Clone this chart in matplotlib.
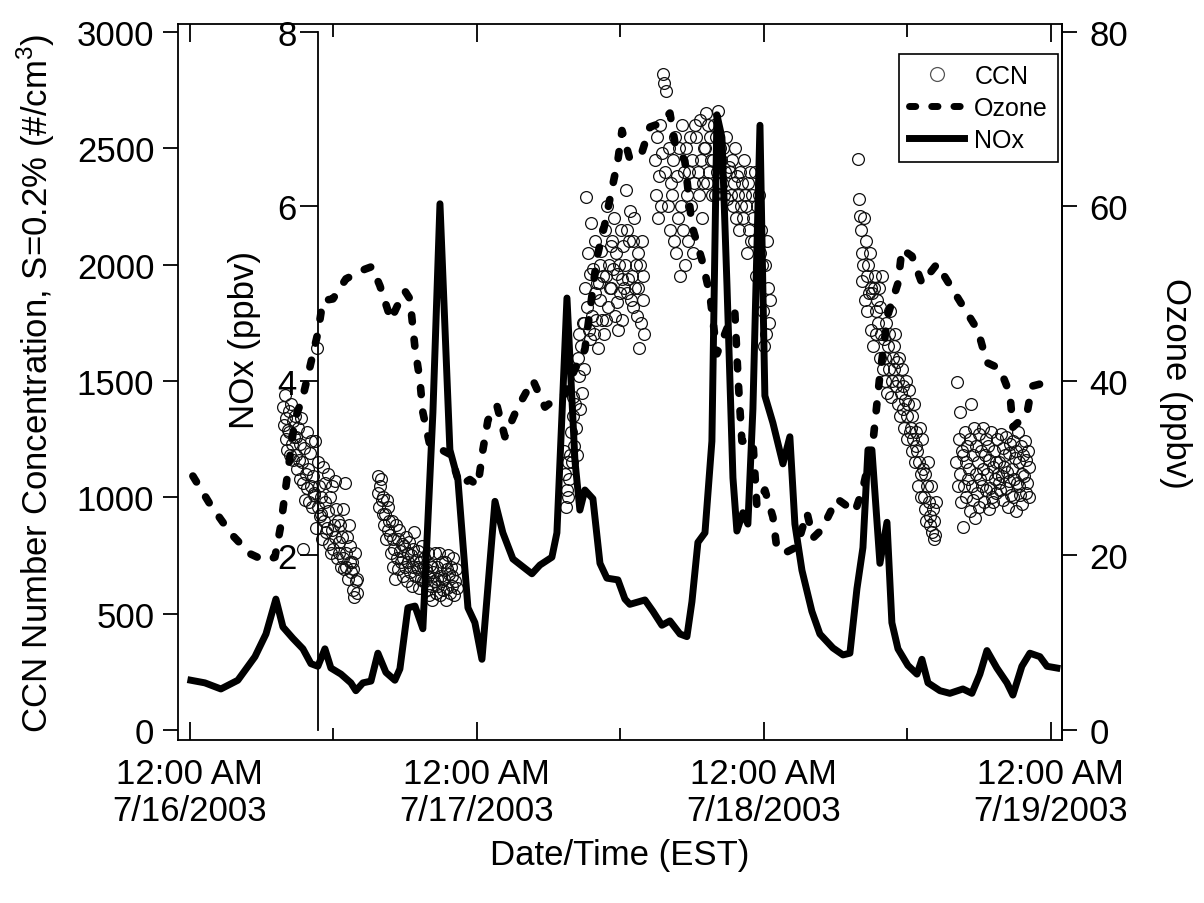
import numpy as np
import matplotlib
matplotlib.use("Agg")
import matplotlib.pyplot as plt
import matplotlib.dates as mdates
from matplotlib.lines import Line2D
from datetime import datetime

plt.rcParams['font.family'] = ['Liberation Sans', 'DejaVu Sans']
plt.rcParams['mathtext.fontset'] = 'custom'
plt.rcParams['mathtext.rm'] = 'Liberation Sans'

# all times in hours after 7/16/2003 12:00 AM (EST)
nox_hours = [0.08, 1.25, 2.59, 4.01, 5.44, 6.36, 7.19, 7.78, 8.61, 9.45, 10.12, 10.70,
             11.29, 11.79, 12.63, 13.46, 13.88, 14.47, 15.14, 15.72, 16.39, 17.14, 17.56,
             18.23, 18.82, 19.48, 20.32, 20.91, 21.74, 22.41, 23.25, 23.83, 24.42, 25.51,
             26.17, 27.01, 27.85, 28.60, 29.27, 30.27, 30.69, 31.53, 32.20, 32.61, 33.03,
             33.70, 34.29, 34.87, 35.79, 36.38, 36.79, 38.05, 38.72, 39.47, 40.14, 40.98,
             41.56, 41.98, 42.48, 43.07, 43.65, 44.07, 44.49, 44.91, 45.41, 45.74, 46.24,
             46.66, 47.08, 47.67, 47.92, 48.08, 48.75, 49.59, 50.17, 50.59, 51.18, 52.01,
             52.68, 53.77, 54.61, 55.19, 55.78, 56.28, 56.70, 57.03, 57.70, 58.29, 58.70,
             59.21, 60.04, 60.80, 61.21, 61.72, 62.72, 63.55, 64.64, 65.39, 66.06, 66.65,
             67.48, 68.32, 68.82, 69.57, 70.24, 71.08, 71.67, 72.50]
nox_ppbv = [0.57, 0.54, 0.47, 0.57, 0.84, 1.10, 1.50, 1.18, 1.05, 0.93, 0.76, 0.73,
            0.93, 0.71, 0.64, 0.54, 0.45, 0.54, 0.56, 0.88, 0.66, 0.57, 0.70,
            1.40, 1.42, 1.16, 3.64, 6.03, 3.21, 2.87, 1.40, 1.23, 0.81, 2.62,
            2.26, 1.96, 1.87, 1.79, 1.89, 1.98, 2.26, 4.95, 3.08, 2.52, 2.75,
            2.65, 1.91, 1.74, 1.72, 1.50, 1.44, 1.49, 1.36, 1.20, 1.25, 1.10,
            1.07, 1.47, 2.15, 2.26, 3.31, 7.05, 6.79, 5.10, 2.89, 2.28, 2.49,
            2.36, 3.68, 6.93, 4.99, 3.83, 3.52, 3.05, 3.36, 2.36, 1.83, 1.36,
            1.10, 0.94, 0.86, 0.88, 1.62, 2.09, 3.21, 3.21, 1.91, 2.38, 1.23,
            0.93, 0.74, 0.64, 0.81, 0.54, 0.45, 0.42, 0.47, 0.42, 0.64, 0.91,
            0.71, 0.54, 0.40, 0.73, 0.88, 0.84, 0.73, 0.71]

ozone_hours = [0.25, 1.67, 3.43, 5.02, 6.27, 7.11, 7.61, 7.94, 8.78, 9.45, 10.12, 10.70,
               11.12, 11.96, 13.05, 14.63, 15.22, 15.89, 16.81, 17.31, 17.98, 18.40, 18.82,
               19.23, 19.48, 20.07, 20.91, 21.74, 22.16, 22.58, 23.41, 24.08, 24.50, 24.92,
               25.67, 26.34, 27.35, 28.68, 29.69, 30.52, 31.36, 32.20, 33.03, 34.03, 34.70,
               35.29, 35.79, 36.13, 36.79, 37.80, 38.47, 39.30, 40.14, 40.56, 41.39, 41.98,
               42.81, 43.48, 44.07, 44.91, 45.57, 45.83, 45.99, 46.16, 47.08, 47.41, 48.08,
               48.75, 49.09, 49.92, 50.76, 51.60, 52.10, 52.85, 54.10, 54.61, 55.61, 56.28,
               57.11, 57.70, 58.37, 59.21, 59.54, 60.38, 61.21, 62.47, 64.22, 65.89, 66.65,
               67.74, 68.57, 68.82, 69.99, 70.41, 71.25, 71.67]
ozone_ppbv = [29.1, 25.9, 22.5, 20.2, 19.4, 19.8, 23.5, 27.0, 35.6, 38.2, 42.1, 45.5,
              49.2, 49.4, 51.7, 52.8, 53.1, 50.9, 47.0, 48.5, 50.3, 49.4, 43.8,
              40.1, 36.4, 32.6, 32.2, 31.6, 29.9, 28.0, 28.7, 28.0, 32.1, 35.5,
              37.2, 33.6, 36.8, 40.1, 37.0, 37.9, 38.5, 41.4, 43.6, 54.1, 58.0,
              62.0, 65.3, 68.7, 65.4, 66.2, 69.1, 69.5, 70.7, 67.3, 65.2, 57.8,
              53.9, 49.9, 43.1, 46.0, 47.8, 40.5, 36.8, 33.1, 33.1, 25.7, 27.5,
              24.4, 20.7, 20.4, 21.0, 24.9, 22.0, 23.0, 26.5, 26.0, 25.0, 27.7,
              32.9, 40.7, 47.6, 51.2, 55.1, 54.3, 51.2, 53.4, 49.5, 45.8, 42.1,
              41.4, 38.5, 34.7, 36.2, 39.4, 39.7, 39.9]

# CCN sampling periods (start, end hour) and measured values (#/cm3)
ccn_periods = [(7.8, 14.0), (15.7, 22.3), (31.3, 38.0), (38.9, 48.5), (55.9, 62.4), (64.1, 70.2)]
ccn_day1_am = [1390, 1310, 1440, 1250, 1340, 1205, 1290, 1370,
               1280, 1180, 1400, 1230, 1330, 1160, 1260, 1350,
               1180, 1260, 1120, 1300, 1160, 1230, 1080, 1340,
               1150, 780, 1060, 1210, 990, 1100, 1280, 1040,
               1120, 980, 1190, 1050, 1240, 960, 1090, 1020,
               1010, 1240, 870, 1640, 960, 1150, 1050, 920,
               930, 1000, 820, 1130, 900, 1060, 980, 850,
               870, 940, 1100, 800, 1000, 760, 860, 1050,
               780, 880, 1070, 830, 950, 740, 900, 810,
               760, 880, 700, 830, 950, 740, 690, 1060,
               760, 700, 830, 650, 880, 720, 790, 680,
               720, 600, 690, 570, 760, 640, 650, 590]
ccn_day1_pm = [1090, 1020, 960, 1050, 1080, 990, 930, 1000,
               880, 930, 820, 990, 860, 960, 900, 840,
               760, 900, 700, 820, 780, 650, 880, 740,
               820, 690, 860, 770, 720, 800, 660, 740,
               790, 700, 830, 640, 760, 720, 810, 680,
               750, 620, 780, 700, 850, 660, 730, 700,
               690, 770, 610, 720, 650, 790, 700, 640,
               740, 640, 690, 600, 760, 660, 580, 710,
               620, 700, 560, 680, 640, 760, 590, 650,
               700, 620, 760, 580, 660, 720, 640, 600,
               650, 720, 560, 690, 610, 750, 670, 590,
               700, 620, 660, 740, 580, 640, 690, 610]
ccn_day2_am = [1200, 1100, 960, 1030, 1150, 1000, 1080, 1180,
               1280, 1150, 1430, 1350, 1220, 1400, 1300, 1180,
               1600, 1520, 1700, 1380, 1650, 1450, 1750, 1550,
               1750, 1900, 2290, 1820, 2050, 1720, 1960, 1680,
               2180, 1780, 1980, 1700, 1880, 2100, 1760, 1920,
               1640, 1920, 2000, 1850, 2060, 1760, 1950, 1700,
               2150, 1760, 1950, 2250, 1820, 2000, 1900, 2080,
               1900, 2100, 1980, 2200, 1780, 2050, 1840, 1960,
               1720, 2000, 1880, 2150, 1940, 1760, 2080, 1900,
               2000, 2320, 1880, 2150, 1940, 2100, 2230, 1850,
               1950, 1820, 2100, 2200, 1900, 2000, 1780, 2050,
               1900, 1640, 2000, 1750, 2100, 1850, 1950, 1700]
ccn_day2_pm = [2450, 2300, 2550, 2200, 2380, 2600, 2250, 2480,
               2820, 2780, 2400, 2745, 2250, 2500, 2150, 2350,
               2300, 2450, 2100, 2550, 2050, 2380, 2200, 2500,
               1950, 2250, 2600, 2150, 2400, 2000, 2500, 2300,
               2100, 2400, 2550, 2250, 2450, 2050, 2350, 2600,
               2550, 2400, 2300, 2620, 2450, 2200, 2350, 2500,
               2500, 2650, 2350, 2600, 2400, 2550, 2450, 2300,
               2450, 2600, 2300, 2550, 2400, 2660, 2350, 2500,
               2450, 2350, 2500, 2300, 2400, 2550, 2280, 2420,
               2400, 2300, 2450, 2250, 2350, 2500, 2200, 2380,
               2300, 2150, 2400, 2250, 2350, 2200, 2450, 2300,
               2250, 2050, 2350, 2150, 2400, 2100, 2300, 2200,
               2100, 2400, 1950, 2250, 2300, 2050, 2150, 2000,
               1800, 1650, 2000, 1700, 2100, 1900, 1750, 1850]
ccn_day3_am = [2455, 2280, 2210, 2150, 2050, 1930, 2000, 2200,
               1850, 2100, 1950, 1800, 2000, 1880, 2050, 1900,
               1720, 1880, 1650, 1900, 1950, 1800, 1700, 1850,
               1750, 1900, 1600, 1820, 1700, 1950, 1550, 1680,
               1600, 1500, 1750, 1450, 1650, 1550, 1700, 1800,
               1430, 1500, 1600, 1650, 1550, 1700, 1480, 1580,
               1500, 1400, 1600, 1350, 1450, 1550, 1480, 1380,
               1300, 1420, 1500, 1350, 1250, 1400, 1460, 1280,
               1300, 1200, 1350, 1250, 1400, 1150, 1280, 1220,
               1200, 1050, 1150, 1300, 1100, 1000, 1250, 1120,
               1000, 950, 1100, 900, 1050, 1150, 980, 920,
               880, 1050, 850, 950, 820, 900, 840, 980]
ccn_day3_pm = [1150, 1495, 1050, 1250, 1100, 1367, 980, 1200,
               872, 1180, 1050, 1280, 1000, 1150, 1220, 1080,
               1120, 940, 1250, 1400, 1050, 1180, 990, 1300,
               910, 1100, 1220, 1020, 1150, 1270, 960, 1080,
               1200, 1050, 1300, 1120, 980, 1180, 1030, 1250,
               1100, 1220, 950, 1160, 1040, 1280, 1000, 1130,
               980, 1200, 1080, 1150, 1020, 1250, 1100, 1060,
               1150, 1030, 1270, 1090, 1210, 990, 1130, 1180,
               1040, 1260, 1110, 960, 1190, 1070, 1230, 1010,
               1120, 1000, 1240, 1080, 1170, 940, 1200, 1060,
               1280, 1050, 1150, 1010, 1220, 1100, 970, 1180,
               1090, 1240, 1020, 1160, 1060, 1200, 1130, 1000]
ccn_values = [ccn_day1_am, ccn_day1_pm, ccn_day2_am, ccn_day2_pm, ccn_day3_am, ccn_day3_pm]

xtick_labels = ['12:00 AM\n7/16/2003', '12:00 AM\n7/17/2003', '12:00 AM\n7/18/2003', '12:00 AM\n7/19/2003']

# convert hours to matplotlib dates
day0 = mdates.date2num(datetime(2003, 7, 16))
def to_date(h):
    return day0 + np.asarray(h, dtype=float) / 24.0

ccn_t = []
ccn_v = []
for (h0, h1), vals in zip(ccn_periods, ccn_values):
    ccn_t.extend(to_date(np.linspace(h0, h1, len(vals))))
    ccn_v.extend(vals)

fs = 25
fig = plt.figure(figsize=(12.04, 9.04), dpi=100)
ax = fig.add_axes([0.1478, 0.1803, 0.7342, 0.792])

ax.plot(ccn_t, ccn_v, ls='none', marker='o', mfc='none', mec='#111111', mew=0.9, ms=8.5)

ax_oz = ax.twinx()
ax_oz.plot(to_date(ozone_hours), ozone_ppbv, color='black', lw=5.5, dashes=(0.9, 2.3),
           dash_capstyle='round')

ax_nox = ax.twinx()
ax_nox.plot(to_date(nox_hours), nox_ppbv, color='black', lw=5, solid_joinstyle='round')

# main axis (CCN)
ax.set_xlim(day0 - 1.0 / 24, day0 + 3 + 0.92 / 24)
ax.set_ylim(-43, 3034)
ax.set_yticks(np.arange(0, 3001, 500))
ax.set_xticks(to_date([0, 24, 48, 72]))
ax.set_xticklabels(xtick_labels, linespacing=1.15)
ax.set_xticks(to_date([12, 36, 60]), minor=True)
ax.tick_params(axis='y', direction='out', length=11, width=1.3, labelsize=fs, pad=6)
ax.tick_params(axis='x', which='major', direction='in', length=13, width=1.3, top=True,
               labelsize=fs, pad=12)
ax.tick_params(axis='x', which='minor', direction='in', length=9, width=1.3, top=True)
for s in ax.spines.values():
    s.set_linewidth(1.3)
ax.set_ylabel('CCN Number Concentration, S=0.2% (#/cm$^{3}$)', fontsize=fs, labelpad=14)
ax.set_xlabel('Date/Time (EST)', fontsize=fs, labelpad=8)

# ozone axis (right)
ax_oz.set_ylim(-1.15, 80.9)
ax_oz.set_yticks(np.arange(0, 81, 20))
ax_oz.tick_params(axis='y', direction='out', length=11, width=1.3, labelsize=fs, pad=9)
for k in ['top', 'bottom', 'left']:
    ax_oz.spines[k].set_visible(False)
ax_oz.spines['right'].set_linewidth(1.3)
ax_oz.set_ylabel('Ozone (ppbv)', fontsize=fs, rotation=270, va='bottom', labelpad=22)

# NOx axis (inner)
ax_nox.set_ylim(-0.115, 8.09)
ax_nox.set_yticks([2, 4, 6, 8])
ax_nox.yaxis.set_ticks_position('left')
ax_nox.yaxis.set_label_position('left')
ax_nox.spines['left'].set_position(('axes', 0.158))
ax_nox.spines['left'].set_bounds(0, 8)
ax_nox.spines['left'].set_linewidth(1.3)
for k in ['top', 'bottom', 'right']:
    ax_nox.spines[k].set_visible(False)
ax_nox.tick_params(axis='y', direction='out', length=13, width=1.3, labelsize=fs, pad=2)
ax_nox.set_ylabel('NOx (ppbv)', fontsize=fs)
ax_nox.yaxis.set_label_coords(0.094, 0.56)

handles = [Line2D([], [], ls='none', marker='o', mfc='none', mec='#555555', mew=0.9, ms=10),
           Line2D([], [], color='black', lw=5, dashes=(0.9, 2.3), dash_capstyle='round'),
           Line2D([], [], color='black', lw=5)]
leg = ax_nox.legend(handles, ['CCN', 'Ozone', 'NOx'], loc='upper right',
                    bbox_to_anchor=(1058 / 1204, 1 - 55 / 904), bbox_transform=fig.transFigure,
                    fontsize=18, fancybox=False, edgecolor='black', framealpha=1,
                    handlelength=2.2, handletextpad=0.4, labelspacing=0.32, borderpad=0.4,
                    borderaxespad=0, numpoints=1)
leg.get_frame().set_linewidth(1.2)

fig.savefig('out.png', dpi=100)
